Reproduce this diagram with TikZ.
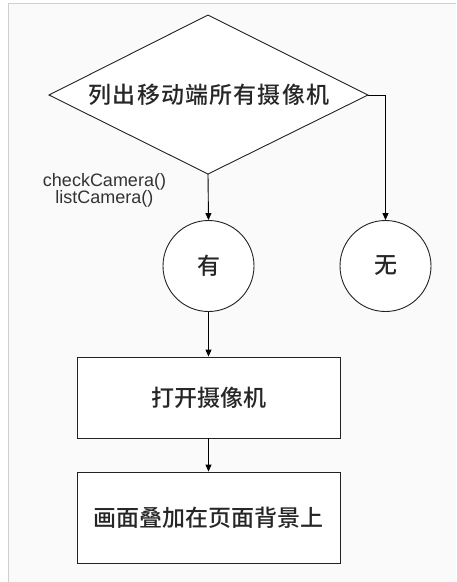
\documentclass[tikz,border=0pt]{standalone}
\usepackage{fontspec}
\setmainfont{Liberation Sans}
\newfontfamily\cjk{Noto Sans CJK SC}[BoldFont=Noto Sans CJK SC Medium]
\newfontfamily\cjkwide{Noto Sans CJK SC}[BoldFont=Noto Sans CJK SC Medium,LetterSpace=5]
\usetikzlibrary{shapes.geometric,arrows.meta}
\definecolor{panelbg}{HTML}{FAFAFA}
\definecolor{panelframe}{HTML}{CFCFCF}
\definecolor{linec}{HTML}{222222}
\definecolor{labelc}{HTML}{333333}
\begin{document}
\begin{tikzpicture}[x=1pt,y=-1pt,
  shapeline/.style={draw=linec,line width=0.9pt,fill=white},
  conn/.style={draw=black,line width=0.9pt,-{Triangle[length=7pt,width=6pt]}},
  cjktext/.style={font=\cjk\bfseries\fontsize{23}{25}\selectfont,text=black!85},
  procbox/.style={shapeline,rectangle,inner sep=0pt},
  endcircle/.style={shapeline,circle,minimum size=91pt,inner sep=0pt}]
\useasboundingbox (0,0) rectangle (456,582);
\fill[white] (0,0) rectangle (456,582);
\fill[panelbg] (8,3) rectangle (456,582);
\draw[panelframe,line width=1pt] (8,582) -- (8,3) -- (456,3);
% decision diamond
\draw[shapeline] (49,95) -- (208,15) -- (368,95) -- (208,174) -- cycle;
\coordinate (dtop) at (208,15);
\coordinate (dleft) at (49,95);
\coordinate (dright) at (368,95);
\coordinate (dbottom) at (208,174);
\node[font=\cjkwide\bfseries\fontsize{23}{25}\selectfont,text=black!85] (dtext) at (209,95) {列出移动端所有摄像机};
% circles
\node[endcircle,cjktext] (yes) at (208.5,266) {有};
\node[endcircle,cjktext] (no) at (385.5,266) {无};
% boxes
\node[procbox,cjktext,minimum width=263pt,minimum height=81pt] (open) at (208.5,397.5) {打开摄像机};
\node[procbox,cjktext,minimum width=263pt,minimum height=91pt] (overlay) at (208.5,517.5) {画面叠加在页面背景上};
% connectors
\draw[conn] (dbottom) -- (yes.north);
\coordinate (rturn) at (385.5,95);
\draw[conn] (dright) -- (rturn) -- (no.north);
\draw[conn] (yes.south) -- (open.north);
\draw[conn] (open.south) -- (overlay.north);
% label
\node[font=\fontsize{18}{17}\selectfont,text=labelc,align=center] (lbl) at (104.5,190) {checkCamera()\\listCamera()};
\end{tikzpicture}
\end{document}
